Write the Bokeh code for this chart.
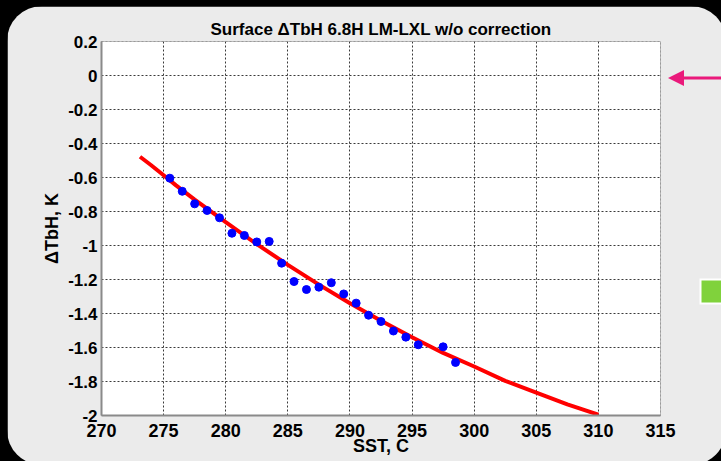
from bokeh.plotting import figure
from bokeh.models import (Range1d, FixedTicker, CustomJSTickFormatter,
                          ColumnDataSource, Div)
from bokeh.layouts import column
from bokeh.embed import file_html
from bokeh.resources import INLINE

# ---- data ----
sst = [275.5, 276.5, 277.5, 278.5, 279.5, 280.5, 281.5, 282.5, 283.5, 284.5,
       285.5, 286.5, 287.5, 288.5, 289.5, 290.5, 291.5, 292.5, 293.5, 294.5,
       295.5, 297.5, 298.5]
dtbh = [-0.604, -0.681, -0.755, -0.794, -0.837, -0.928, -0.941, -0.979, -0.976,
        -1.104, -1.212, -1.259, -1.245, -1.219, -1.285, -1.339, -1.410, -1.447,
        -1.503, -1.539, -1.584, -1.596, -1.688]

# red fitted curve
fit_sst = [273.1, 274.0, 275.0, 276.0, 277.5, 280.0, 282.5, 285.0, 287.5,
           290.0, 292.5, 295.0, 297.5, 300.0, 302.5, 305.0, 307.5, 310.0]
fit_dtbh = [-0.478, -0.528, -0.587, -0.646, -0.730, -0.862, -0.992, -1.114,
            -1.230, -1.340, -1.443, -1.540, -1.632, -1.712, -1.796, -1.866,
            -1.935, -1.995]

x_ticks = [270, 275, 280, 285, 290, 295, 300, 305, 310, 315]
y_ticks = [0.2, 0.0, -0.2, -0.4, -0.6, -0.8, -1.0, -1.2, -1.4, -1.6, -1.8, -2.0]

title = "Surface \u0394TbH 6.8H LM-LXL w/o correction"
x_label = "SST, C"
y_label = "\u0394TbH, K"

FONT = "Liberation Sans"

p = figure(width=719, height=459,
           x_range=Range1d(270, 315), y_range=Range1d(-2, 0.2),
           output_backend="svg", toolbar_location=None,
           min_border_left=94, min_border_right=66,
           min_border_top=35, min_border_bottom=50,
           background_fill_color="white", border_fill_color="#ebebeb",
           outline_line_color="#9a9a9a", outline_line_dash="2 2",
           outline_line_width=1)
p.styles = {"border-radius": "35px", "overflow": "hidden"}
p.margin = (6, 0, 0, 7)

p.title.text = title
p.title.align = "center"
p.title.text_font = FONT
p.title.text_font_size = "17px"
p.title.text_font_style = "bold"
p.title.text_color = "black"
p.title.standoff = 6

# axes
for ax in (p.xaxis[0], p.yaxis[0]):
    ax.axis_line_color = "#8a8a8a"
    ax.axis_line_width = 2
    ax.major_tick_line_color = None
    ax.minor_tick_line_color = None
    ax.major_tick_in = 0
    ax.major_tick_out = 0
    ax.minor_tick_in = 0
    ax.minor_tick_out = 0
    ax.major_label_text_font = FONT
    ax.major_label_text_font_style = "bold"
    ax.major_label_text_color = "black"
    ax.axis_label_text_font = FONT
    ax.axis_label_text_font_style = "bold"
    ax.axis_label_text_color = "black"
    ax.axis_label_text_font_size = "18px"

p.xaxis.ticker = FixedTicker(ticks=x_ticks)
p.yaxis.ticker = FixedTicker(ticks=y_ticks)
p.yaxis.formatter = CustomJSTickFormatter(code="return Number(tick.toFixed(1)).toString();")
p.xaxis.major_label_text_font_size = "18px"
p.yaxis.major_label_text_font_size = "17px"
p.xaxis.major_label_standoff = 8
p.yaxis.major_label_standoff = 4
p.xaxis.axis_label = x_label
p.yaxis.axis_label = y_label
p.xaxis.axis_label_standoff = -4
p.yaxis.axis_label_standoff = 3

# grid (inner lines only; edges drawn by the dotted outline)
p.xgrid.ticker = FixedTicker(ticks=x_ticks[1:-1])
p.ygrid.ticker = FixedTicker(ticks=y_ticks[1:-1])
for g in (p.xgrid[0], p.ygrid[0]):
    g.grid_line_color = "#3a3a3a"
    g.grid_line_dash = "2 2"
    g.grid_line_width = 1

fit_src = ColumnDataSource(dict(x=fit_sst, y=fit_dtbh))
pts_src = ColumnDataSource(dict(x=sst, y=dtbh))
p.line("x", "y", source=fit_src, line_color="#ff0000", line_width=4)
p.scatter("x", "y", source=pts_src, size=8, fill_color="#0000ff",
          line_color="#0000ff")

# slide decorations outside the axes (pink arrow, green box)
overlay = Div(
    text=('<svg width="721" height="461" xmlns="http://www.w3.org/2000/svg">'
          '<line x1="678" y1="73" x2="730" y2="73" stroke="#ea1a7b" stroke-width="3"/>'
          '<polygon points="663,73 679,65 679,81" fill="#ea1a7b"/>'
          '<rect x="695.5" y="274.5" width="40" height="24" fill="#80d23c" '
          'stroke="white" stroke-width="2"/>'
          '</svg>'),
    width=721, height=461,
    styles={"position": "absolute", "left": "0px", "top": "0px",
            "pointer-events": "none"})

layout = column(p, overlay, width=721, height=461,
                styles={"background-color": "black", "overflow": "hidden",
                        "position": "relative"})

open("out.html", "w").write(file_html(layout, INLINE))
